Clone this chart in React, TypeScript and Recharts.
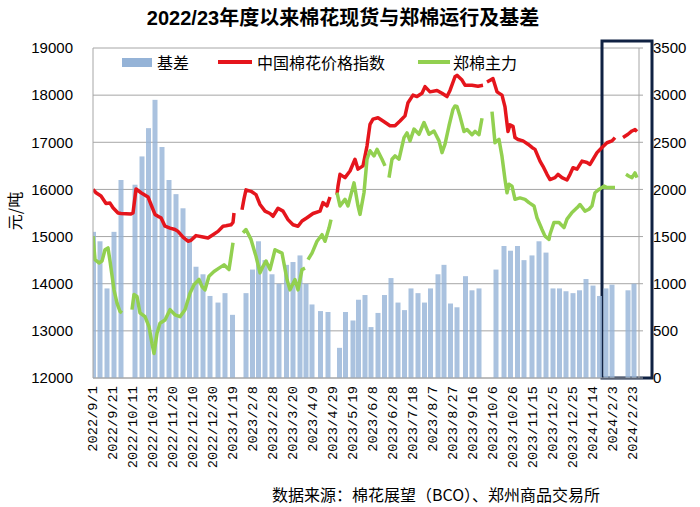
import React from 'react';
import { ComposedChart, Bar, Line, XAxis, YAxis, CartesianGrid, ReferenceArea } from 'recharts';

// x values are calendar days counted from 2022/9/1
const tickLabels = [
  '2022/9/1', '2022/9/21', '2022/10/11', '2022/10/31', '2022/11/20', '2022/12/10', '2022/12/30',
  '2023/1/19', '2023/2/8', '2023/2/28', '2023/3/20', '2023/4/9', '2023/4/29', '2023/5/19',
  '2023/6/8', '2023/6/28', '2023/7/18', '2023/8/7', '2023/8/27', '2023/9/16', '2023/10/6',
  '2023/10/26', '2023/11/15', '2023/12/5', '2023/12/25', '2024/1/14', '2024/2/3', '2024/2/23',
];
const tickDays = tickLabels.map((_, i) => i * 20);
const leftTicks = [12000, 13000, 14000, 15000, 16000, 17000, 18000, 19000];
const rightTicks = [0, 500, 1000, 1500, 2000, 2500, 3000, 3500];

// 基差 (weekly clusters): [day, value]
const basisPoints: [number, number][] = [
  [0.5, 1550], [7, 1450], [14, 950], [21, 1550], [28, 2100], [42, 2050], [49, 2350], [55.5, 2650],
  [62, 2950], [69, 2450], [76, 2100], [83, 1950], [90, 1800], [96.5, 1500], [103, 1180], [110, 1100],
  [117, 870], [125, 800], [132, 900], [139.5, 670], [153, 900], [159.5, 1150], [165.5, 1450], [172, 1250],
  [179, 1100], [186, 1000], [193.5, 1200], [200, 1230], [207, 1300], [213, 1000], [219, 780], [227.5, 710],
  [235, 700], [246.5, 320], [252.5, 700], [260, 610], [265.5, 830], [272, 880], [278, 540], [285, 690],
  [291.5, 880], [298, 1060], [305, 800], [311.5, 720], [318, 950], [325, 900], [331.5, 800], [337.5, 950],
  [345, 1100], [351, 1200], [357.5, 790], [364, 750], [372.5, 1080], [379, 930], [386, 950], [403, 1150],
  [411, 1400], [417.5, 1350], [424.5, 1400], [431, 1250], [439, 1300], [446, 1450], [453, 1330], [460, 950],
  [466.5, 950], [473, 920], [480, 900], [486.5, 930], [493, 1050], [500, 980], [506.5, 870], [513, 950],
  [519, 990], [535, 930], [541, 1000],
];

// 中国棉花价格指数: [day, value] (null = gap)
const indexPoints: [number, number | null][] = [
  [0, 16000], [3, 15930], [8, 15860], [13, 15700], [17, 15710], [20, 15610], [25, 15500], [28, 15490],
  [38, 15480], [40, 15500], [43, 16010], [48, 15930], [55, 15840], [58, 15680], [62, 15470], [65, 15430],
  [68, 15400], [72, 15220], [77, 15180], [82, 15150], [85, 15110], [90, 14990], [95, 14900], [98, 14920],
  [103, 15020], [110, 14990], [115, 14970], [120, 15040], [125, 15110], [130, 15220], [133, 15230],
  [138, 15250], [140, 15300], [141, 15500],
  [145, null],
  [149, 15570], [151, 15800], [153, 15990], [158, 15960], [163, 15890], [167, 15680], [172, 15540],
  [177, 15490], [180, 15430], [185, 15600], [190, 15540], [195, 15360], [200, 15250], [205, 15220],
  [209, 15330], [214, 15400], [220, 15490], [227, 15540], [230, 15720], [234, 15650], [237, 15840],
  [240, null],
  [244, 15890], [245, 16070], [247, 16320], [252, 16250], [257, 16390], [262, 16640], [265, 16430],
  [270, 16500], [274, 16920], [277, 17380], [280, 17490], [285, 17520], [290, 17450], [297, 17350],
  [302, 17350], [307, 17450], [312, 17560], [315, 17840], [320, 18000], [324, 17970], [329, 18040],
  [332, 18180], [337, 18070], [344, 18100], [349, 18040], [354, 17970], [357, 18100], [362, 18390],
  [364, 18420], [369, 18320], [372, 18210], [379, 18210], [385, 18190], [390, 18210],
  [392, null],
  [394, 18280], [400, 18350], [404, 18070], [409, 18000], [412, 17750], [414, 17400], [415, 17230],
  [417, 17370], [420, 17340], [422, 17100], [425, 17060], [430, 17030], [435, 16960], [439, 16890],
  [442, 16850], [447, 16600], [450, 16490], [454, 16320], [457, 16210], [462, 16250], [465, 16320],
  [469, 16250], [474, 16200], [477, 16320], [480, 16460], [484, 16430], [489, 16600], [494, 16570],
  [497, 16530], [500, 16640], [504, 16780], [509, 16890], [514, 16990], [519, 17030], [522, 17100],
  [526, null],
  [530, 17100], [535, 17170], [539, 17240], [542, 17270], [544, 17230],
];

// 郑棉主力: [day, value] (null = gap)
const futuresPoints: [number, number | null][] = [
  [0, 15010], [2, 14510], [6, 14440], [9, 14480], [12, 14720], [15, 14760], [17, 14480], [21, 13870],
  [24, 13590], [27, 13410], [29, 13380],
  [34, null],
  [39, 13450], [41, 13770], [44, 13730], [47, 13380], [52, 13300], [56, 13090], [59, 12730], [61, 12520],
  [64, 12950], [67, 13160], [72, 13230], [77, 13450], [82, 13340], [87, 13300], [92, 13450], [97, 13800],
  [101, 13980], [106, 14090], [109, 13940], [112, 13870], [116, 14160], [121, 14260], [126, 14330],
  [131, 14400], [136, 14300], [138, 14580], [140, 14870],
  [145, null],
  [150, 15080], [153, 15150], [158, 14940], [163, 14580], [167, 14230], [170, 14370], [173, 14480],
  [177, 14300], [182, 14720], [189, 14650], [194, 14090], [197, 13870], [202, 14090], [205, 13870],
  [209, 14300], [212, 14330],
  [213.5, null],
  [215, 14510], [219, 14650], [224, 14900], [229, 15040], [232, 14900], [236, 15180], [238, 15360],
  [241, null],
  [244, 15930], [247, 15650], [252, 15790], [255, 15650], [261, 16140], [265, 15650], [267, 15470],
  [271, 15930], [274, 16640], [277, 16820], [281, 16710], [284, 16850], [289, 16640], [292, 16500],
  [294, null],
  [296, 16250], [299, 16640], [302, 16710], [306, 16640], [311, 17100], [314, 17200], [317, 17030],
  [321, 17280], [326, 17170], [331, 17420], [336, 17170], [341, 17240], [346, 17030], [349, 16780],
  [352, 16960], [356, 17350], [360, 17700], [362, 17770], [364, 17760], [367, 17550], [371, 17230],
  [374, 17270], [379, 17160], [382, 17230], [386, 17160], [389, 17510],
  [394, null],
  [399, 17650], [402, 16990], [406, 17060], [409, 16700], [412, 16210], [414, 15930], [416, 16110],
  [419, 16070], [422, 15790], [427, 15820], [432, 15790], [436, 15720], [441, 15650], [444, 15400],
  [449, 15150], [452, 15010], [456, 14940], [457, 15050], [461, 15300], [466, 15300], [471, 15190],
  [474, 15370], [479, 15510], [484, 15610], [487, 15680], [492, 15540], [496, 15580], [499, 15650],
  [502, 15930], [506, 16000], [511, 16070], [514, 16040], [519, 16040], [522, 16040],
  [528, null],
  [533, 16320], [536, 16280], [539, 16250], [542, 16350], [544, 16250],
];

// highlighted period box (days)
const highlightDays = [509, 559];

const COLORS = { basis: '#95B3D7', index: '#E5151C', futures: '#92D050', box: '#0F2142', grid: '#A6A6A6' };
const NAMES = { basis: '基差', index: '中国棉花价格指数', futures: '郑棉主力' };
const BAR_W = 5;

const basisRows = basisPoints.map(([d, v]) => ({ d, basis: v }));
const indexRows = indexPoints.map(([d, v]) => ({ d, v }));
const futuresRows = futuresPoints.map(([d, v]) => ({ d, v }));

const CJK = "'Noto Sans CJK SC', sans-serif";

const XTick = (props: any) => {
  const { x, y, payload } = props;
  const idx = tickDays.indexOf(payload.value);
  const label = idx >= 0 ? tickLabels[idx] : '';
  return (
    <text
      x={x}
      y={y}
      transform={`rotate(-90 ${x} ${y})`}
      textAnchor="end"
      dominantBaseline="central"
      fontFamily="'Liberation Mono', monospace"
      fontSize={13.7}
      fill="#000"
    >
      {label}
    </text>
  );
};

const BasisShape = (props: any) => {
  const { x, y, width, height } = props;
  if (height == null || !isFinite(height) || height <= 0) return <g />;
  const cx = x + (width || 0) / 2;
  return <rect x={cx - BAR_W / 2} y={y} width={BAR_W} height={height} fill={COLORS.basis} fillOpacity={0.8} />;
};

export default function App() {
  return (
    <div style={{ position: 'absolute', left: 0, top: 0, width: 700, height: 507, background: '#fff', overflow: 'hidden' }}>
      <ComposedChart width={700} height={507} data={basisRows} margin={{ top: 48, right: 0, bottom: 0, left: 0 }}>
        <CartesianGrid yAxisId="left" vertical={false} stroke={COLORS.grid} strokeWidth={1} />
        <XAxis
          type="number"
          dataKey="d"
          domain={[0, 546]}
          ticks={tickDays}
          interval={0}
          allowDataOverflow
          height={129}
          tickSize={0}
          tickMargin={8}
          tick={<XTick />}
          axisLine={{ stroke: COLORS.grid }}
        />
        <YAxis
          yAxisId="left"
          domain={[12000, 19000]}
          ticks={leftTicks}
          interval={0}
          allowDataOverflow
          width={93}
          tickSize={0}
          tickMargin={20}
          axisLine={{ stroke: COLORS.grid }}
          tick={{ fill: '#000', fontSize: 15, fontFamily: "'Liberation Sans', Arial, sans-serif" }}
        />
        <YAxis
          yAxisId="right"
          orientation="right"
          domain={[0, 3500]}
          ticks={rightTicks}
          interval={0}
          allowDataOverflow
          width={61}
          tickSize={4}
          tickMargin={10}
          tickLine={{ stroke: COLORS.grid }}
          axisLine={{ stroke: COLORS.grid }}
          tick={{ fill: '#000', fontSize: 15, fontFamily: "'Liberation Sans', Arial, sans-serif" }}
        />
        <Bar yAxisId="right" dataKey="basis" fill={COLORS.basis} shape={<BasisShape />} isAnimationActive={false} />
        <Line
          yAxisId="left"
          data={indexRows}
          dataKey="v"
          type="linear"
          stroke={COLORS.index}
          strokeWidth={3.5}
          strokeLinejoin="round"
          dot={false}
          activeDot={false}
          isAnimationActive={false}
        />
        <Line
          yAxisId="left"
          data={futuresRows}
          dataKey="v"
          type="linear"
          stroke={COLORS.futures}
          strokeWidth={3.5}
          strokeLinejoin="round"
          dot={false}
          activeDot={false}
          isAnimationActive={false}
        />
        <ReferenceArea
          yAxisId="left"
          x1={highlightDays[0]}
          x2={highlightDays[1]}
          y1={12000}
          y2={19150}
          fill="none"
          fillOpacity={0}
          stroke={COLORS.box}
          strokeWidth={3}
          ifOverflow="visible"
        />
      </ComposedChart>

      {/* title */}
      <div style={{ position: 'absolute', left: 0, top: 7, width: 686, textAlign: 'center', fontSize: 20, lineHeight: '22px', fontWeight: 'bold', fontFamily: "'Liberation Sans', 'Noto Sans CJK SC', sans-serif", color: '#000' }}>
        2022/23年度以来棉花现货与郑棉运行及基差
      </div>

      {/* legend */}
      <div style={{ position: 'absolute', left: 122, top: 58, width: 30, height: 9, background: COLORS.basis }} />
      <div style={{ position: 'absolute', left: 157, top: 53, fontSize: 16, lineHeight: '18px', fontFamily: CJK, color: '#000' }}>{NAMES.basis}</div>
      <div style={{ position: 'absolute', left: 218, top: 60, width: 34, height: 4, background: COLORS.index }} />
      <div style={{ position: 'absolute', left: 257, top: 53, fontSize: 16, lineHeight: '18px', fontFamily: CJK, color: '#000' }}>{NAMES.index}</div>
      <div style={{ position: 'absolute', left: 418, top: 60, width: 32, height: 4, background: COLORS.futures }} />
      <div style={{ position: 'absolute', left: 453, top: 53, fontSize: 16, lineHeight: '18px', fontFamily: CJK, color: '#000' }}>{NAMES.futures}</div>

      {/* y axis unit */}
      <div style={{ position: 'absolute', left: -16, top: 201, width: 60, height: 20, lineHeight: '20px', textAlign: 'center', transform: 'rotate(-90deg)', fontSize: 16, fontFamily: CJK, color: '#000' }}>
        元/吨
      </div>

      {/* source */}
      <div style={{ position: 'absolute', left: 272, top: 485, fontSize: 16, lineHeight: '18px', fontFamily: CJK, color: '#000', whiteSpace: 'nowrap' }}>
        数据来源：棉花展望（BCO）、郑州商品交易所
      </div>
    </div>
  );
}
